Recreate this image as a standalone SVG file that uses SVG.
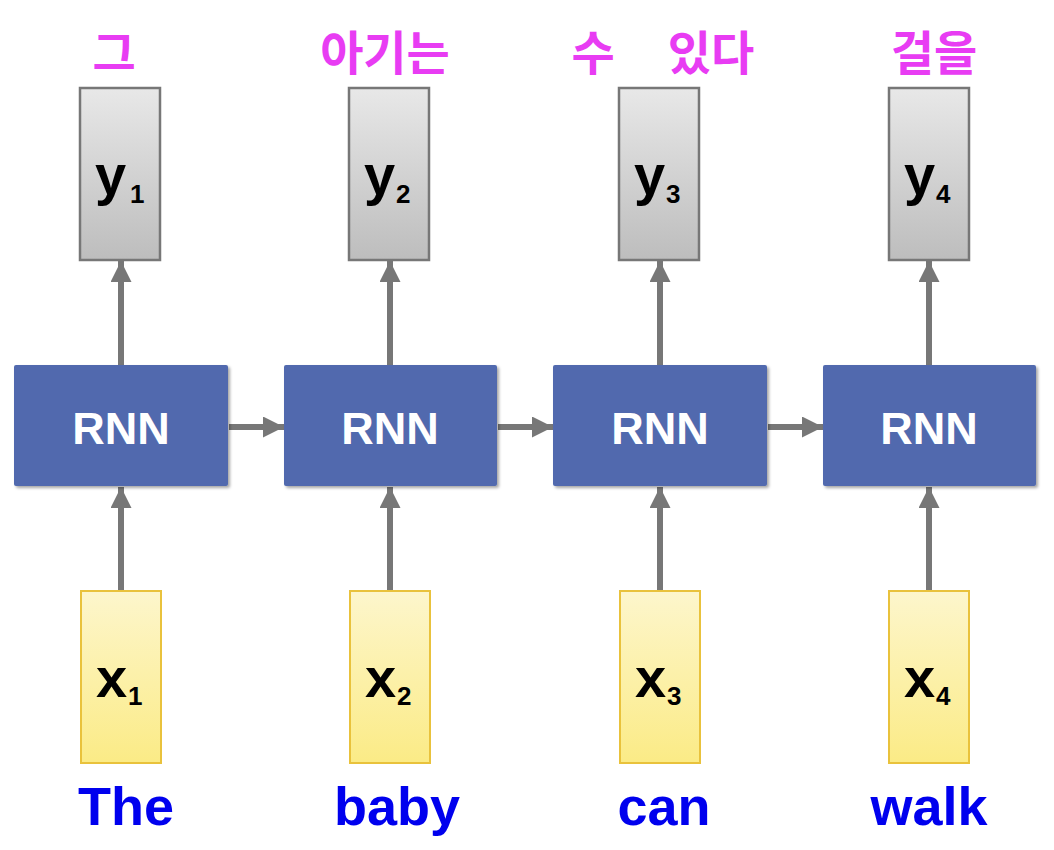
<svg xmlns="http://www.w3.org/2000/svg" width="1054" height="850" viewBox="0 0 1054 850">
<defs>
<linearGradient id="gy" x1="0" y1="0" x2="0" y2="1"><stop offset="0" stop-color="#e8e8e8"/><stop offset="1" stop-color="#bdbdbd"/></linearGradient>
<linearGradient id="gx" x1="0" y1="0" x2="0" y2="1"><stop offset="0" stop-color="#fdf6cc"/><stop offset="1" stop-color="#fbeb86"/></linearGradient>
<marker id="ah" viewBox="0 0 10 10" refX="10" refY="5" markerWidth="3.5" markerHeight="3.5" orient="auto" markerUnits="strokeWidth"><path d="M0,0 L10,5 L0,10 Z" fill="#777"/></marker>
<filter id="sh" x="-10%" y="-10%" width="125%" height="125%"><feDropShadow dx="2" dy="2" stdDeviation="1.5" flood-color="#000" flood-opacity="0.35"/></filter>
</defs>
<style>
.rnn{fill:#5169ae;filter:url(#sh)}
.yb{fill:url(#gy);stroke:#777;stroke-width:2.5}
.xb{fill:url(#gx);stroke:#e9c23c;stroke-width:2}
.rt{font-family:"Liberation Sans",Arial,sans-serif;font-weight:bold;font-size:45px;fill:#fff;text-anchor:middle}
.v{font-family:"Liberation Sans",Arial,sans-serif;font-weight:bold;font-size:56px;fill:#000}
.s{font-family:"Liberation Sans",Arial,sans-serif;font-weight:bold;font-size:26px;fill:#000}
.w{font-family:"Liberation Sans",Arial,sans-serif;font-weight:bold;font-size:54px;fill:#0000ee;text-anchor:middle}
.k{font-family:"Noto Sans CJK KR","Noto Sans",sans-serif;font-weight:bold;font-size:47px;fill:#e83cf3;text-anchor:middle}
.c{stroke:#777;stroke-width:6;fill:none;marker-end:url(#ah)}
</style>
<g id="connectors">
<line class="c" x1="121" y1="591" x2="121" y2="487"/>
<line class="c" x1="390" y1="591" x2="390" y2="487"/>
<line class="c" x1="660" y1="591" x2="660" y2="487"/>
<line class="c" x1="929" y1="591" x2="929" y2="487"/>
<line class="c" x1="121" y1="365" x2="121" y2="261"/>
<line class="c" x1="390" y1="365" x2="390" y2="261"/>
<line class="c" x1="660" y1="365" x2="660" y2="261"/>
<line class="c" x1="929" y1="365" x2="929" y2="261"/>
<line class="c" x1="229" y1="427" x2="284" y2="427"/>
<line class="c" x1="498" y1="427" x2="553" y2="427"/>
<line class="c" x1="768" y1="427" x2="823" y2="427"/>
</g>
<g id="rnn1"><rect class="rnn" x="14" y="365" width="214" height="121" rx="2"/><text class="rt" x="121" y="444">RNN</text></g>
<g id="rnn2"><rect class="rnn" x="284" y="365" width="213" height="121" rx="2"/><text class="rt" x="390" y="444">RNN</text></g>
<g id="rnn3"><rect class="rnn" x="553" y="365" width="214" height="121" rx="2"/><text class="rt" x="660" y="444">RNN</text></g>
<g id="rnn4"><rect class="rnn" x="823" y="365" width="213" height="121" rx="2"/><text class="rt" x="929" y="444">RNN</text></g>
<g id="y1"><rect class="yb" x="80" y="88" width="80" height="172"/><text x="95" y="194"><tspan class="v">y</tspan><tspan class="s" x="130" y="203">1</tspan></text></g>
<g id="y2"><rect class="yb" x="349" y="88" width="80" height="172"/><text x="364" y="194"><tspan class="v">y</tspan><tspan class="s" x="396" y="203">2</tspan></text></g>
<g id="y3"><rect class="yb" x="619" y="88" width="80" height="172"/><text x="634" y="194"><tspan class="v">y</tspan><tspan class="s" x="666" y="203">3</tspan></text></g>
<g id="y4"><rect class="yb" x="889" y="88" width="80" height="172"/><text x="904" y="194"><tspan class="v">y</tspan><tspan class="s" x="936" y="203">4</tspan></text></g>
<g id="x1"><rect class="xb" x="81" y="591" width="80" height="172"/><text x="96" y="697"><tspan class="v">x</tspan><tspan class="s" x="128" y="705">1</tspan></text></g>
<g id="x2"><rect class="xb" x="350" y="591" width="80" height="172"/><text x="365" y="697"><tspan class="v">x</tspan><tspan class="s" x="397" y="705">2</tspan></text></g>
<g id="x3"><rect class="xb" x="620" y="591" width="80" height="172"/><text x="635" y="697"><tspan class="v">x</tspan><tspan class="s" x="667" y="705">3</tspan></text></g>
<g id="x4"><rect class="xb" x="889" y="591" width="80" height="172"/><text x="904" y="697"><tspan class="v">x</tspan><tspan class="s" x="936" y="705">4</tspan></text></g>
<g id="words">
<text class="w" x="126" y="825">The</text>
<text class="w" x="397" y="825">baby</text>
<text class="w" x="664" y="825">can</text>
<text class="w" x="929" y="825">walk</text>
</g>
<g id="korean">
<text class="k" x="114" y="70">그</text>
<text class="k" x="385" y="70">아기는</text>
<text class="k" x="662" y="70"><tspan x="593">수</tspan><tspan x="711">있다</tspan></text>
<text class="k" x="934" y="70">걸을</text>
</g>
</svg>
